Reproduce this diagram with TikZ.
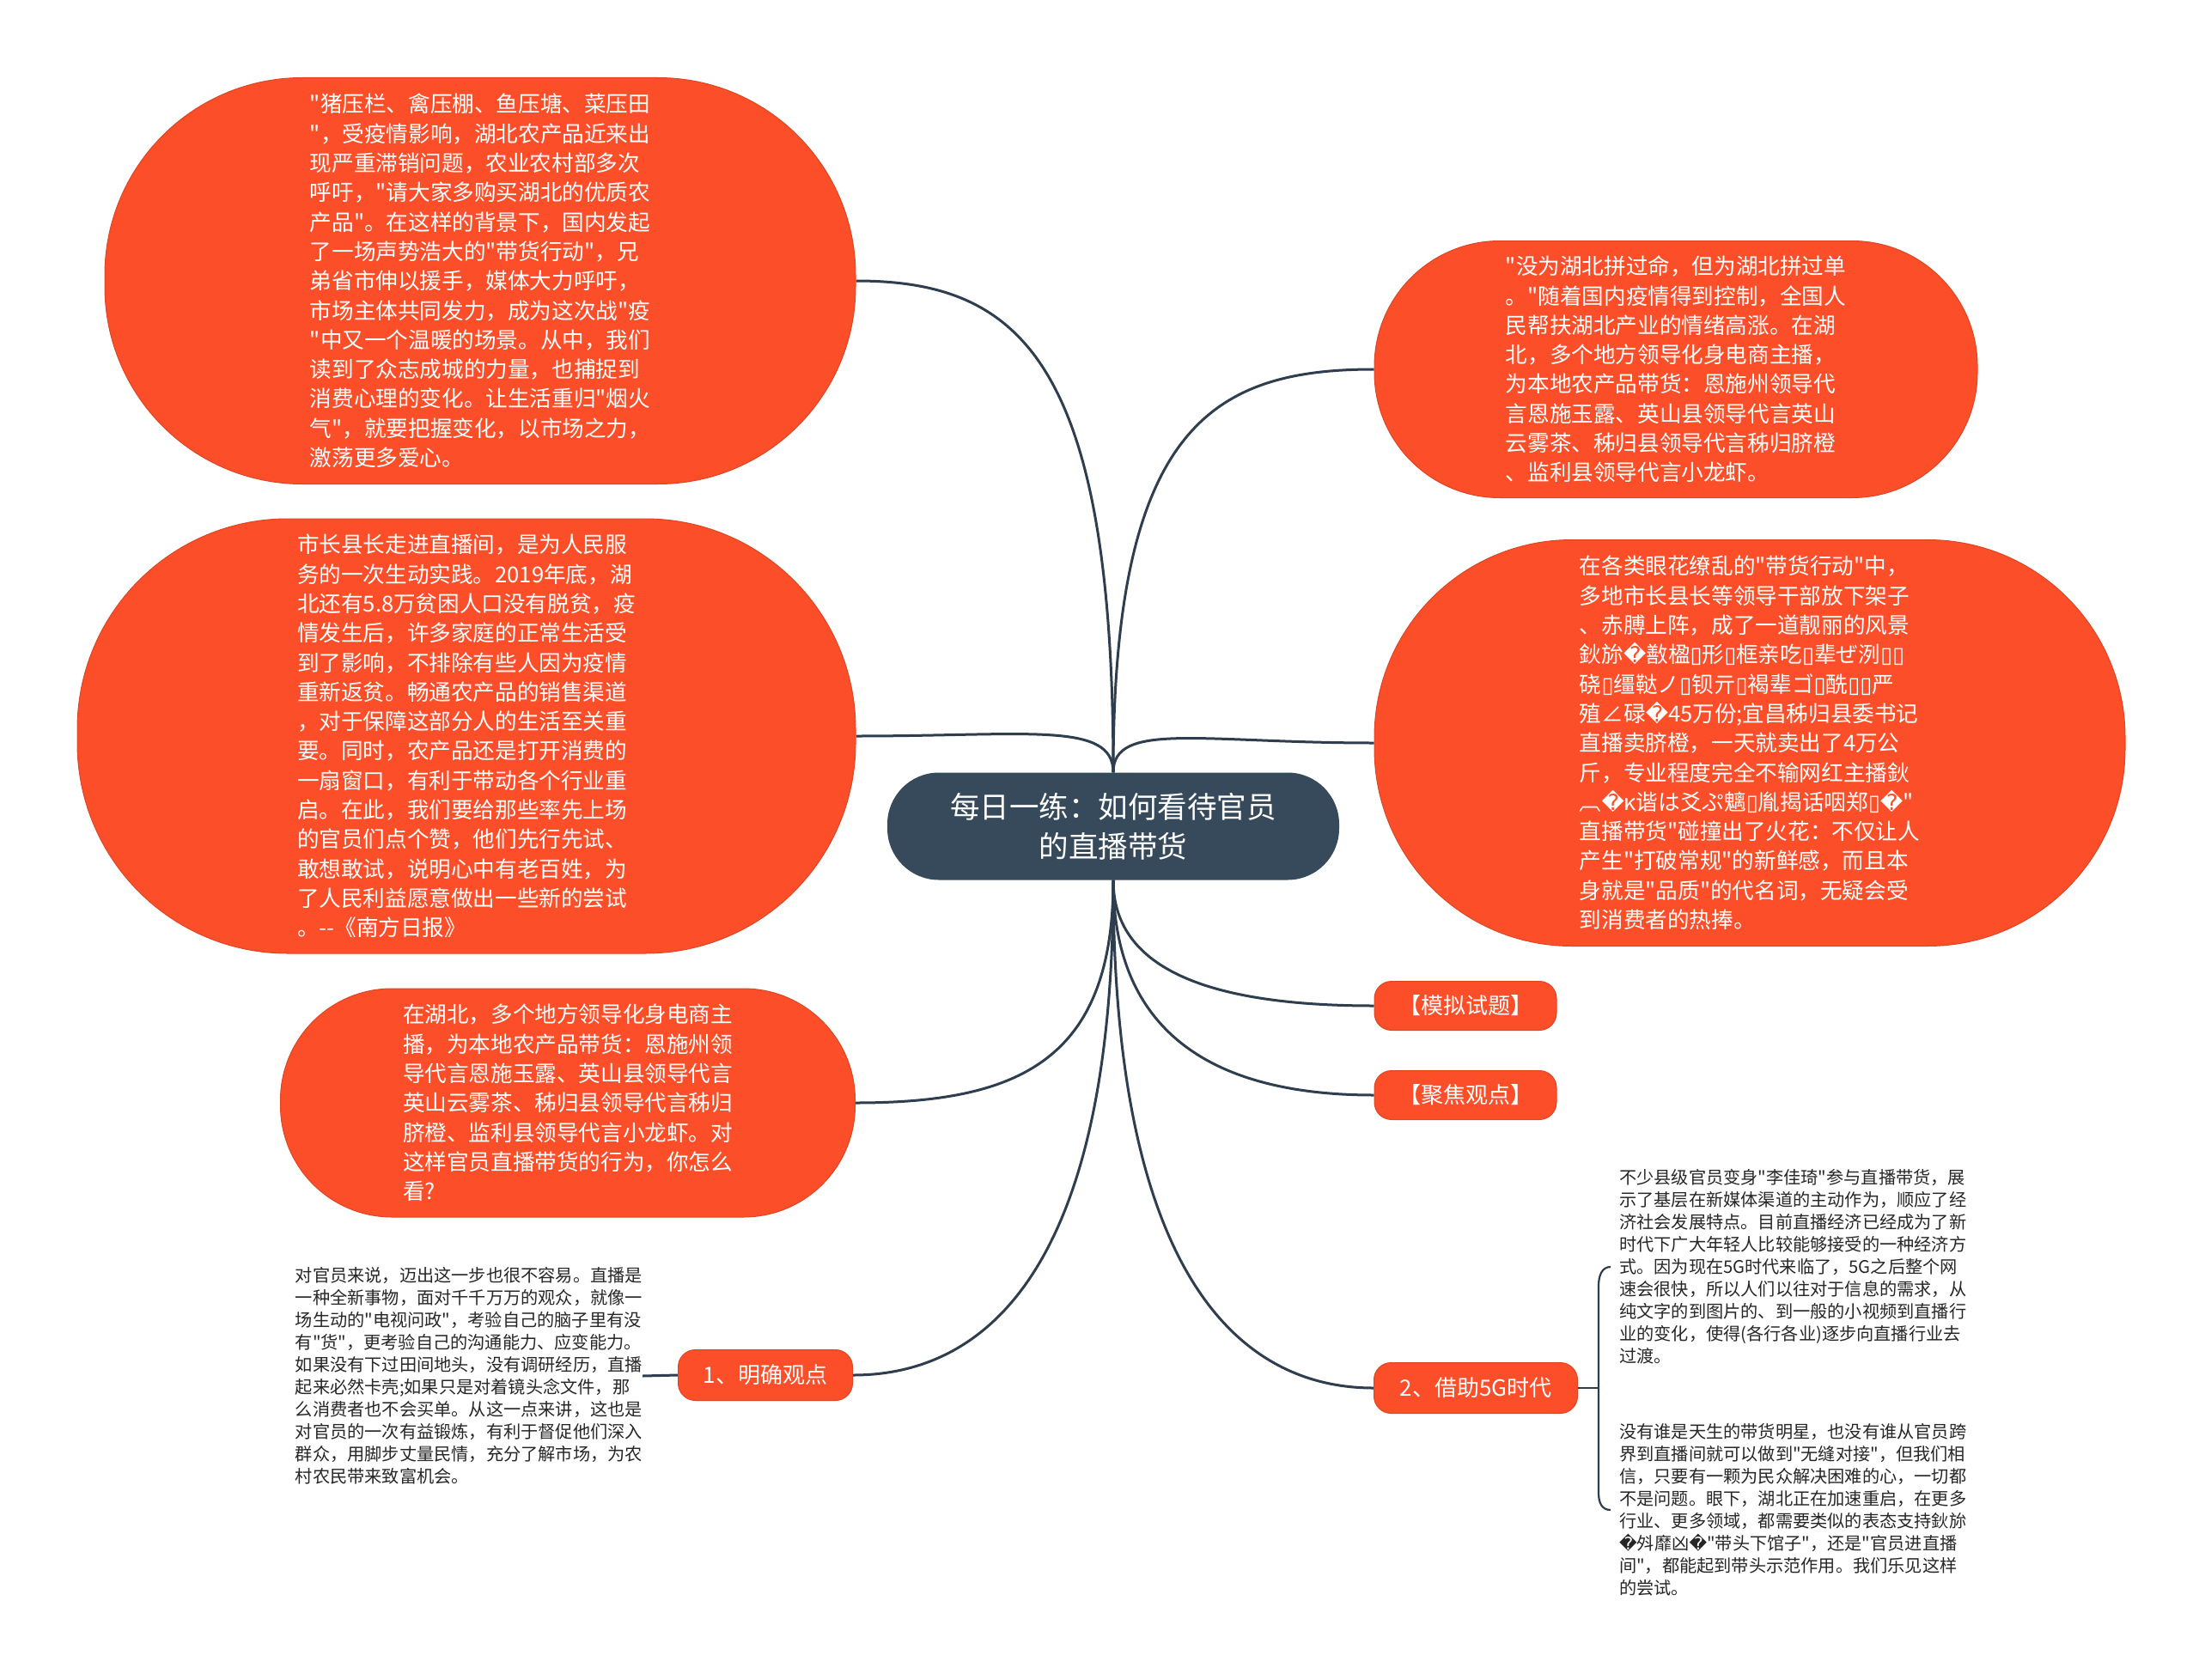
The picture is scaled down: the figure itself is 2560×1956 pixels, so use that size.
\documentclass[tikz,border=0pt]{standalone}
\usepackage{fontspec}
\setmainfont{Noto Sans CJK SC}[Ligatures=TeXOff]
\newfontfamily\dvfont{DejaVu Sans}[Ligatures=TeXOff]
\newcommand\rpl{{\dvfont\char"FFFD}}
\newcommand\bxx{{\dvfont\char"25AF}}
\definecolor{bub}{HTML}{FC4E28}
\definecolor{ctr}{HTML}{364A5C}
\definecolor{lnk}{HTML}{2E3E4E}
\pgfdeclarelayer{bg}
\pgfsetlayers{bg,main}
\tikzset{
  bubble/.style={fill=bub, draw=bub!88!black, line width=1pt, text=white, align=left, inner sep=0pt,
    font=\fontsize{25.6pt}{34.3pt}\selectfont},
  pill/.style={fill=bub, draw=bub!88!black, line width=1pt, text=white, rounded corners=20pt, inner sep=0pt,
    font=\fontsize{26pt}{30pt}\selectfont},
  hubnode/.style={fill=ctr, text=white, align=center, inner sep=0pt, rounded corners=60pt,
    font=\fontsize{34.5pt}{45.7pt}\selectfont},
  plaintext/.style={text=black!85, align=left, inner sep=0pt, font=\fontsize{20.2pt}{26pt}\selectfont},
  link/.style={draw=lnk, line width=3pt},
  brk/.style={draw=lnk, line width=2.2pt}
}
\begin{document}
\begin{tikzpicture}[x=1pt,y=-1pt]
\useasboundingbox (0,0) rectangle (2560,1956);

% hub
\node[hubnode, minimum width=526pt, minimum height=125pt] (hub) at (1296,962) {每日一练：如何看待官员\\的直播带货};

% left bubbles
\node[bubble, minimum width=874pt, minimum height=473pt, rounded corners=230pt] (tl) at (559,327) {"猪压栏、禽压棚、鱼压塘、菜压田\\"，受疫情影响，湖北农产品近来出\\现严重滞销问题，农业农村部多次\\呼吁，"请大家多购买湖北的优质农\\产品"。在这样的背景下，国内发起\\了一场声势浩大的"带货行动"，兄\\弟省市伸以援手，媒体大力呼吁，\\市场主体共同发力，成为这次战"疫\\"中又一个温暖的场景。从中，我们\\读到了众志成城的力量，也捕捉到\\消费心理的变化。让生活重归"烟火\\气"，就要把握变化，以市场之力，\\激荡更多爱心。};

\node[bubble, minimum width=906pt, minimum height=506pt, rounded corners=245pt] (ml) at (543,857) {市长县长走进直播间，是为人民服\\务的一次生动实践。2019年底，湖\\北还有5.8万贫困人口没有脱贫，疫\\情发生后，许多家庭的正常生活受\\到了影响，不排除有些人因为疫情\\重新返贫。畅通农产品的销售渠道\\，对于保障这部分人的生活至关重\\要。同时，农产品还是打开消费的\\一扇窗口，有利于带动各个行业重\\启。在此，我们要给那些率先上场\\的官员们点个赞，他们先行先试、\\敢想敢试，说明心中有老百姓，为\\了人民利益愿意做出一些新的尝试\\。--《南方日报》};

\node[bubble, minimum width=669pt, minimum height=266pt, rounded corners=130pt] (bl) at (661,1284) {在湖北，多个地方领导化身电商主\\播，为本地农产品带货：恩施州领\\导代言恩施玉露、英山县领导代言\\英山云雾茶、秭归县领导代言秭归\\脐橙、监利县领导代言小龙虾。对\\这样官员直播带货的行为，你怎么\\看?};

% right bubbles
\node[bubble, minimum width=702pt, minimum height=299pt, rounded corners=146pt] (tr) at (1951,430) {"没为湖北拼过命，但为湖北拼过单\\。"随着国内疫情得到控制，全国人\\民帮扶湖北产业的情绪高涨。在湖\\北，多个地方领导化身电商主播，\\为本地农产品带货：恩施州领导代\\言恩施玉露、英山县领导代言英山\\云雾茶、秭归县领导代言秭归脐橙\\、监利县领导代言小龙虾。};

\node[bubble, minimum width=874pt, minimum height=473pt, rounded corners=230pt] (mr) at (2037,865) {在各类眼花缭乱的"带货行动"中，\\多地市长县长等领导干部放下架子\\、赤膊上阵，成了一道靓丽的风景\\鈥旀\rpl 敾楹\bxx 形\bxx 框亲吃\bxx 辈ぜ洌\bxx\bxx\\硗\bxx 缰鞑ノ\bxx 钡亓\bxx 褐辈ゴ\bxx 酰\bxx\bxx 严\\殖∠碌\rpl 45万份;宜昌秭归县委书记\\直播卖脐橙，一天就卖出了4万公\\斤，专业程度完全不输网红主播鈥\\︹\rpl κ谐は爻ぷ魑\bxx 胤揭话咽郑\bxx\rpl"\\直播带货"碰撞出了火花：不仅让人\\产生"打破常规"的新鲜感，而且本\\身就是"品质"的代名词，无疑会受\\到消费者的热捧。};

% pills
\node[pill, minimum width=212pt, minimum height=57pt] (mn) at (1706,1171) {【模拟试题】};
\node[pill, minimum width=212pt, minimum height=57pt] (jj) at (1706,1275) {【聚焦观点】};
\node[pill, minimum width=203pt, minimum height=59pt] (n1) at (891,1601) {1、明确观点};
\node[pill, minimum width=237pt, minimum height=59pt] (n2) at (1718,1616) {2、借助5G时代};

% plain texts
\node[plaintext, anchor=east] (lt) at (748,1602) {对官员来说，迈出这一步也很不容易。直播是\\一种全新事物，面对千千万万的观众，就像一\\场生动的"电视问政"，考验自己的脑子里有没\\有"货"，更考验自己的沟通能力、应变能力。\\如果没有下过田间地头，没有调研经历，直播\\起来必然卡壳;如果只是对着镜头念文件，那\\么消费者也不会买单。从这一点来讲，这也是\\对官员的一次有益锻炼，有利于督促他们深入\\群众，用脚步丈量民情，充分了解市场，为农\\村农民带来致富机会。};

\node[plaintext, anchor=west] (rt1) at (1885,1475) {不少县级官员变身"李佳琦"参与直播带货，展\\示了基层在新媒体渠道的主动作为，顺应了经\\济社会发展特点。目前直播经济已经成为了新\\时代下广大年轻人比较能够接受的一种经济方\\式。因为现在5G时代来临了，5G之后整个网\\速会很快，所以人们以往对于信息的需求，从\\纯文字的到图片的、到一般的小视频到直播行\\业的变化，使得(各行各业)逐步向直播行业去\\过渡。};

\node[plaintext, anchor=west] (rt2) at (1885,1758) {没有谁是天生的带货明星，也没有谁从官员跨\\界到直播间就可以做到"无缝对接"，但我们相\\信，只要有一颗为民众解决困难的心，一切都\\不是问题。眼下，湖北正在加速重启，在更多\\行业、更多领域，都需要类似的表态支持鈥旀\\\rpl 斘靡凶\rpl"带头下馆子"，还是"官员进直播\\间"，都能起到带头示范作用。我们乐见这样\\的尝试。};

\coordinate (bm) at (1861,1616);
\coordinate (b1) at (1861,1497);
\coordinate (b2) at (1861,1738);

\begin{pgfonlayer}{bg}
\fill[white] (0,0) rectangle (2560,1956);
\draw[link] (hub.north) .. controls +(0,-480) and +(190,0) .. (tl.east);
\draw[link] (hub.north) .. controls +(0,-60) and +(200,0) .. (ml.east);
\draw[link] (hub.north) .. controls +(0,-400) and +(-190,0) .. (tr.west);
\draw[link] (hub.north) .. controls +(0,-60) and +(-200,0) .. (mr.west);
\draw[link] (hub.south) .. controls +(0,210) and +(190,0) .. (bl.east);
\draw[link] (hub.south) .. controls +(0,460) and +(150,0) .. (n1.east);
\draw[link] (hub.south) .. controls +(0,470) and +(-150,0) .. (n2.west);
\draw[link] (hub.south) .. controls +(0,150) and +(-220,0) .. (jj.west);
\draw[link] (hub.south) .. controls +(0,100) and +(-200,0) .. (mn.west);
\draw[link] (n1.west) -- (lt.east);
\draw[brk] (n2.east) -- (bm);
\draw[brk] ([xshift=-10pt]rt1.west) .. controls +(-10,0) and +(0,-12) .. (b1) -- (b2) .. controls +(0,12) and +(-10,0) .. ([xshift=-10pt]rt2.west);
\end{pgfonlayer}
\end{tikzpicture}
\end{document}
